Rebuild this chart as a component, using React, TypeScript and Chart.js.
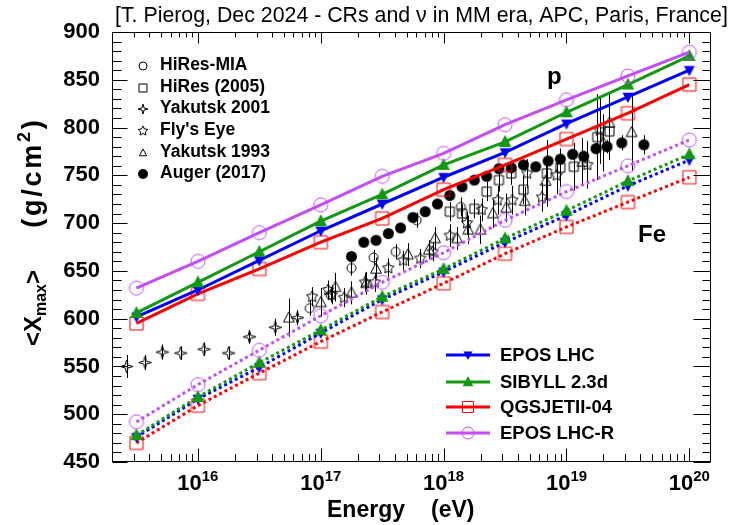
import { useEffect, useRef } from 'react';
import { Chart, registerables } from 'chart.js';
Chart.register(...registerables);

// ---------- data ----------
const modelLgE = [15.5, 16, 16.5, 17, 17.5, 18, 18.5, 19, 19.5, 20];
const eposP = [602, 630, 661, 692, 720, 748, 774, 804, 832, 860];
const sibyllP = [606, 638, 670, 702, 730, 761, 785, 816, 845, 875];
const qgsjetP = [595, 626, 652, 680, 705, 735, 761, 788, 815, 845];
const eposRP = [632, 660, 690, 719, 749, 773, 803, 829, 854, 879];
const eposFe = [476, 516, 549, 585, 620, 649, 680, 708, 739, 766];
const sibyllFe = [478, 518, 554, 588, 623, 652, 684, 713, 744, 772];
const qgsjetFe = [470, 509, 543, 576, 607, 637, 668, 696, 722, 748];
const eposRFe = [492, 531, 567, 603, 638, 669, 703, 733, 760, 787];

const augerLgE = [17.25, 17.35, 17.45, 17.55, 17.65, 17.75, 17.85, 17.95, 18.05, 18.15, 18.25, 18.35, 18.45, 18.55, 18.65, 18.75, 18.85, 18.95, 19.05, 19.14, 19.24, 19.33, 19.45, 19.63];
const augerX = [665, 680, 682, 689, 695, 706, 712, 720, 729, 738, 745, 749, 757, 758, 761, 759, 765, 767, 772, 770, 778, 780, 784, 782];
const augerErr = [3, 3, 3, 3, 3, 3, 3, 3, 3, 3, 3, 3, 3, 3, 3, 3, 4, 4, 5, 5, 6, 7, 8, 10];

const hiresLgE = [18.05, 18.15, 18.25, 18.35, 18.45, 18.55, 18.65, 18.84, 18.95, 19.06, 19.25, 19.35];
const hiresX = [712, 710, 715, 733, 745, 752, 735, 752, 758, 759, 790, 796];
const hiresErr = [10, 10, 10, 10, 12, 12, 15, 35, 20, 25, 45, 30];

const hiresMiaLgE = [16.91, 17.08, 17.25, 17.43, 17.61, 17.78, 18.14];
const hiresMiaX = [611, 625, 653, 664, 670, 703, 717];
const hiresMiaErr = [8, 8, 8, 8, 8, 8, 10];

const yak01LgE = [15.42, 15.57, 15.71, 15.86, 16.05, 16.25, 16.42, 16.63, 16.81];
const yak01X = [550, 554, 565, 564, 568, 564, 581, 591, 601];
const yak01Err = [12, 8, 8, 7, 7, 7, 7, 9, 8];

const flyLgE = [16.93, 17.06, 17.09, 17.19, 17.36, 17.44, 17.55, 17.67, 17.81, 17.91, 18.05, 18.19, 18.31, 18.44, 18.56, 18.68, 18.80, 18.92, 19.17, 19.27];
const flyX = [623, 630, 625, 622, 638, 638, 653, 661, 663, 670, 687, 700, 714, 724, 724, 752, 727, 750, 761, 797];
const flyErr = [10, 10, 10, 10, 10, 10, 10, 10, 10, 10, 12, 12, 12, 15, 15, 15, 15, 20, 25, 35];

const yak93LgE = [16.74, 17.0, 17.12, 17.25, 17.37, 17.45, 17.71, 17.88, 17.93, 18.11, 18.2, 18.3, 18.4, 18.51, 18.66, 18.83, 19.13, 19.3, 19.35, 19.53];
const yak93X = [601, 617, 633, 627, 637, 652, 667, 672, 684, 684, 693, 693, 710, 716, 723, 744, 764, 784, 805, 795];
const yak93Err = [20, 15, 15, 12, 12, 12, 12, 10, 12, 12, 15, 15, 15, 15, 15, 20, 25, 30, 30, 40];

const xTickExps = [16, 17, 18, 19, 20];
const xRange = [2e15, 1.5e20];
const yRange = [450, 900];

const dataNames = ['HiRes-MIA', 'HiRes (2005)', 'Yakutsk 2001', "Fly's Eye", 'Yakutsk 1993', 'Auger (2017)'];
const modelNames = ['EPOS LHC', 'SIBYLL 2.3d', 'QGSJETII-04', 'EPOS LHC-R'];
const titleText = '[T. Pierog, Dec 2024 - CRs and \u03bd in MM era, APC, Paris, France]';

// ---------- styles ----------
const FONT = '"Liberation Sans", Arial, Helvetica, sans-serif';
const BLUE = '#0000ff';
const GREEN = '#129912';
const RED = '#ff0000';
const PURPLE = '#c34df7';

type Marker = { kind: string; size: number; color: string };
const markers: Record<string, Marker> = {
  hiresMia: { kind: 'circleOpen', size: 4.5, color: '#000' },
  hires: { kind: 'squareOpen', size: 4.5, color: '#000' },
  yak01: { kind: 'star4Open', size: 6.5, color: '#000' },
  fly: { kind: 'star5Open', size: 6, color: '#000' },
  yak93: { kind: 'triUpOpen', size: 6, color: '#000' },
  auger: { kind: 'circleFilled', size: 5.5, color: '#000' },
  epos: { kind: 'triDown', size: 6, color: BLUE },
  sibyll: { kind: 'triUp', size: 7, color: GREEN },
  qgs: { kind: 'squareOpen', size: 6.5, color: RED },
  eposR: { kind: 'circleOpen', size: 7, color: PURPLE },
};

function pathMarker(ctx: CanvasRenderingContext2D, kind: string, x: number, y: number, s: number) {
  ctx.beginPath();
  if (kind === 'circleOpen' || kind === 'circleFilled') {
    ctx.arc(x, y, s, 0, Math.PI * 2);
  } else if (kind === 'squareOpen') {
    ctx.rect(x - s, y - s, 2 * s, 2 * s);
  } else if (kind === 'triUp' || kind === 'triUpOpen') {
    ctx.moveTo(x, y - s);
    ctx.lineTo(x + s * 0.9, y + s * 0.7);
    ctx.lineTo(x - s * 0.9, y + s * 0.7);
    ctx.closePath();
  } else if (kind === 'triDown') {
    ctx.moveTo(x, y + s);
    ctx.lineTo(x + s * 0.9, y - s * 0.7);
    ctx.lineTo(x - s * 0.9, y - s * 0.7);
    ctx.closePath();
  } else if (kind === 'star4Open') {
    for (let i = 0; i < 8; i++) {
      const a = -Math.PI / 2 + (i * Math.PI) / 4;
      const r = i % 2 ? s * 0.3 : s;
      const px = x + r * Math.cos(a);
      const py = y + r * Math.sin(a);
      if (i === 0) ctx.moveTo(px, py); else ctx.lineTo(px, py);
    }
    ctx.closePath();
  } else if (kind === 'star5Open') {
    for (let i = 0; i < 10; i++) {
      const a = -Math.PI / 2 + (i * Math.PI) / 5;
      const r = i % 2 ? s * 0.5 : s;
      const px = x + r * Math.cos(a);
      const py = y + r * Math.sin(a);
      if (i === 0) ctx.moveTo(px, py); else ctx.lineTo(px, py);
    }
    ctx.closePath();
  }
}

function drawMarker(ctx: CanvasRenderingContext2D, m: Marker, x: number, y: number) {
  ctx.save();
  pathMarker(ctx, m.kind, x, y, m.size);
  const filled = m.kind === 'circleFilled' || m.kind === 'triUp' || m.kind === 'triDown';
  if (filled) {
    ctx.fillStyle = m.color;
    ctx.fill();
  } else {
    ctx.lineWidth = 1;
    ctx.strokeStyle = m.color;
    ctx.stroke();
  }
  ctx.restore();
}

function markerCanvas(m: Marker) {
  const d = Math.ceil(2 * m.size + 4);
  const c = document.createElement('canvas');
  c.width = d;
  c.height = d;
  const ctx = c.getContext('2d')!;
  drawMarker(ctx, m, d / 2, d / 2);
  return c;
}

function pts(lg: number[], v: number[]) {
  return lg.map((l, i) => ({ x: Math.pow(10, l), y: v[i] }));
}

type Part = { t: string; size: number; dy: number };
function richWidth(ctx: CanvasRenderingContext2D, parts: Part[], sp = 0) {
  let w = 0;
  for (const p of parts) {
    ctx.font = `bold ${p.size}px ${FONT}`;
    w += ctx.measureText(p.t).width + sp * p.t.length;
  }
  return w;
}
function drawRich(ctx: CanvasRenderingContext2D, parts: Part[], x: number, y: number, sp = 0) {
  let cx = x;
  for (const p of parts) {
    ctx.font = `bold ${p.size}px ${FONT}`;
    for (const ch of p.t) {
      ctx.fillText(ch, cx, y + p.dy);
      cx += ctx.measureText(ch).width + sp;
    }
  }
}

export default function App() {
  const ref = useRef<HTMLCanvasElement>(null);
  useEffect(() => {
    document.body.style.margin = '0';
    const canvas = ref.current!;
    const img: Record<string, HTMLCanvasElement> = {};
    for (const k of Object.keys(markers)) img[k] = markerCanvas(markers[k]);

    const dataSeries = [
      { key: 'auger', lg: augerLgE, v: augerX, e: augerErr },
      { key: 'hires', lg: hiresLgE, v: hiresX, e: hiresErr },
      { key: 'hiresMia', lg: hiresMiaLgE, v: hiresMiaX, e: hiresMiaErr },
      { key: 'fly', lg: flyLgE, v: flyX, e: flyErr },
      { key: 'yak93', lg: yak93LgE, v: yak93X, e: yak93Err },
      { key: 'yak01', lg: yak01LgE, v: yak01X, e: yak01Err },
    ];
    const modelSeries = [
      { key: 'eposR', v: eposRP, color: PURPLE, dash: [] as number[] },
      { key: 'sibyll', v: sibyllP, color: GREEN, dash: [] as number[] },
      { key: 'epos', v: eposP, color: BLUE, dash: [] as number[] },
      { key: 'qgs', v: qgsjetP, color: RED, dash: [] as number[] },
      { key: 'eposR', v: eposRFe, color: PURPLE, dash: [3, 3] },
      { key: 'sibyll', v: sibyllFe, color: GREEN, dash: [3, 3] },
      { key: 'epos', v: eposFe, color: BLUE, dash: [3, 3] },
      { key: 'qgs', v: qgsjetFe, color: RED, dash: [3, 3] },
    ];

    const datasets: any[] = [];
    for (const m of modelSeries) {
      datasets.push({
        data: pts(modelLgE, m.v),
        showLine: true,
        borderColor: m.color,
        borderWidth: 3,
        borderDash: m.dash,
        pointStyle: img[m.key],
        pointRadius: 5,
        tension: 0,
        fill: false,
      });
    }
    for (const d of dataSeries) {
      datasets.push({
        data: pts(d.lg, d.v),
        showLine: false,
        pointStyle: img[d.key],
        pointRadius: 5,
      });
    }

    const overlay = {
      id: 'rootStyle',
      beforeDatasetsDraw(chart: any) {
        const ctx = chart.ctx as CanvasRenderingContext2D;
        const xs = chart.scales.x, ys = chart.scales.y;
        const a = chart.chartArea;
        ctx.save();
        ctx.beginPath();
        ctx.rect(a.left, a.top, a.right - a.left, a.bottom - a.top);
        ctx.clip();
        ctx.strokeStyle = '#000';
        ctx.lineWidth = 1;
        for (const d of dataSeries) {
          d.lg.forEach((l, i) => {
            const px = Math.round(xs.getPixelForValue(Math.pow(10, l))) + 0.5;
            const y1 = ys.getPixelForValue(d.v[i] - d.e[i]);
            const y2 = ys.getPixelForValue(d.v[i] + d.e[i]);
            ctx.beginPath();
            ctx.moveTo(px, y1);
            ctx.lineTo(px, y2);
            ctx.stroke();
          });
        }
        ctx.restore();
      },
      afterDatasetsDraw(chart: any) {
        const ctx = chart.ctx as CanvasRenderingContext2D;
        const xs = chart.scales.x, ys = chart.scales.y;
        const a = chart.chartArea;
        const L = Math.round(a.left) + 0.5, R = Math.round(a.right) - 0.5;
        const T = Math.round(a.top) + 0.5, B = Math.round(a.bottom) - 0.5;
        ctx.save();
        ctx.strokeStyle = '#000';
        ctx.lineWidth = 1;
        ctx.strokeRect(L, T, R - L, B - T);
        // y ticks
        ctx.beginPath();
        for (let v = yRange[0]; v <= yRange[1]; v += 10) {
          const py = Math.round(ys.getPixelForValue(v)) + 0.5;
          const major = v % 50 === 0;
          ctx.moveTo(L, py); ctx.lineTo(L + (major ? 15 : 9), py);
          ctx.moveTo(R, py); ctx.lineTo(R - (major ? 17 : 8), py);
        }
        // x ticks
        for (let d = 15; d <= 20; d++) {
          for (let k = 1; k <= 9; k++) {
            const v = k * Math.pow(10, d);
            if (v < xRange[0] * 0.999 || v > xRange[1]) continue;
            const px = Math.round(xs.getPixelForValue(v)) + 0.5;
            const major = k === 1;
            ctx.moveTo(px, B); ctx.lineTo(px, B - (major ? 13 : 7.5));
            ctx.moveTo(px, T); ctx.lineTo(px, T + (major ? 11 : 5));
          }
        }
        ctx.stroke();

        ctx.fillStyle = '#000';
        // x tick labels
        ctx.textBaseline = 'alphabetic';
        ctx.textAlign = 'left';
        for (const e of xTickExps) {
          const px = xs.getPixelForValue(Math.pow(10, e));
          const parts = [
            { t: '10', size: 22, dy: 0 },
            { t: String(e), size: 15, dy: -9 },
          ];
          const w = richWidth(ctx, parts);
          drawRich(ctx, parts, px - w / 2, 490);
        }
        // x title
        ctx.font = `bold 23px ${FONT}`;
        ctx.fillText('Energy', 327, 517);
        ctx.fillText('(eV)', 431, 517);
        // y title (rotated)
        const drawRot = (parts: Part[], cy: number, targetLen = 0) => {
          ctx.save();
          ctx.translate(41, cy);
          ctx.rotate(-Math.PI / 2);
          let sp = 0;
          if (targetLen) {
            const w0 = richWidth(ctx, parts);
            const n = parts.reduce((s, p) => s + p.t.length, 0);
            sp = Math.max(0, (targetLen - w0) / n);
          }
          const w = richWidth(ctx, parts, sp) - sp;
          drawRich(ctx, parts, -w / 2, 0, sp);
          ctx.restore();
        };
        drawRot([
          { t: '<X', size: 24, dy: 0 },
          { t: 'max', size: 16, dy: 5 },
          { t: '>', size: 24, dy: 0 },
        ], 308);
        drawRot([
          { t: '(g/cm', size: 27, dy: 0 },
          { t: '2', size: 18, dy: -11 },
          { t: ')', size: 27, dy: 0 },
        ], 174, 110);

        // title
        ctx.font = `18px ${FONT}`;
        const tw = ctx.measureText(titleText).width;
        const fs = 18 * 613 / tw;
        ctx.font = `${fs}px ${FONT}`;
        ctx.fillText(titleText, 115, 22);

        // p / Fe
        ctx.font = `bold 24px ${FONT}`;
        ctx.fillText('p', 547, 84);
        ctx.fillText('Fe', 638, 242);

        // legend 1 (data)
        const dataKeys = ['hiresMia', 'hires', 'yak01', 'fly', 'yak93', 'auger'];
        const rows1 = [65, 87, 108, 130, 152, 173];
        ctx.textBaseline = 'middle';
        dataKeys.forEach((k, i) => {
          const m = markers[k];
          const small = { ...m, size: k === 'auger' ? 5 : k === 'yak01' || k === 'fly' ? 5 : 4 };
          drawMarker(ctx, small, 143, rows1[i] + 1);
          ctx.fillStyle = '#000';
          ctx.font = `bold 17.5px ${FONT}`;
          ctx.fillText(dataNames[i], 160, rows1[i]);
        });
        // legend 2 (models)
        const modelKeys = ['epos', 'sibyll', 'qgs', 'eposR'];
        const modelColors = [BLUE, GREEN, RED, PURPLE];
        const rows2 = [355, 382, 407, 433];
        modelKeys.forEach((k, i) => {
          ctx.strokeStyle = modelColors[i];
          ctx.lineWidth = 3;
          ctx.beginPath();
          ctx.moveTo(446, rows2[i]);
          ctx.lineTo(490, rows2[i]);
          ctx.stroke();
          drawMarker(ctx, { ...markers[k], size: markers[k].size - 1 }, 468, rows2[i]);
          ctx.fillStyle = '#000';
          ctx.font = `bold 18.5px ${FONT}`;
          ctx.fillText(modelNames[i], 500, rows2[i] + 1);
        });
        ctx.restore();
      },
    };

    const chart = new Chart(canvas, {
      type: 'line',
      data: { datasets },
      options: {
        animation: false,
        responsive: false,
        devicePixelRatio: 1,
        layout: { padding: { left: 0, right: 22, top: 32, bottom: 63 } },
        plugins: { legend: { display: false }, tooltip: { enabled: false }, title: { display: false } },
        scales: {
          x: {
            type: 'logarithmic',
            display: false,
            min: xRange[0],
            max: xRange[1],
          },
          y: {
            type: 'linear',
            min: yRange[0],
            max: yRange[1],
            grid: { display: false },
            border: { display: false },
            ticks: {
              stepSize: 50,
              padding: 4,
              color: '#000',
              font: { family: FONT, size: 22, weight: 'bold' },
            },
            afterFit: (s: any) => { s.width = 112; },
          },
        },
      } as any,
      plugins: [overlay],
    });
    return () => chart.destroy();
  }, []);
  return (
    <div style={{ width: 733, height: 525, background: '#fff' }}>
      <canvas ref={ref} width={733} height={525} />
    </div>
  );
}
